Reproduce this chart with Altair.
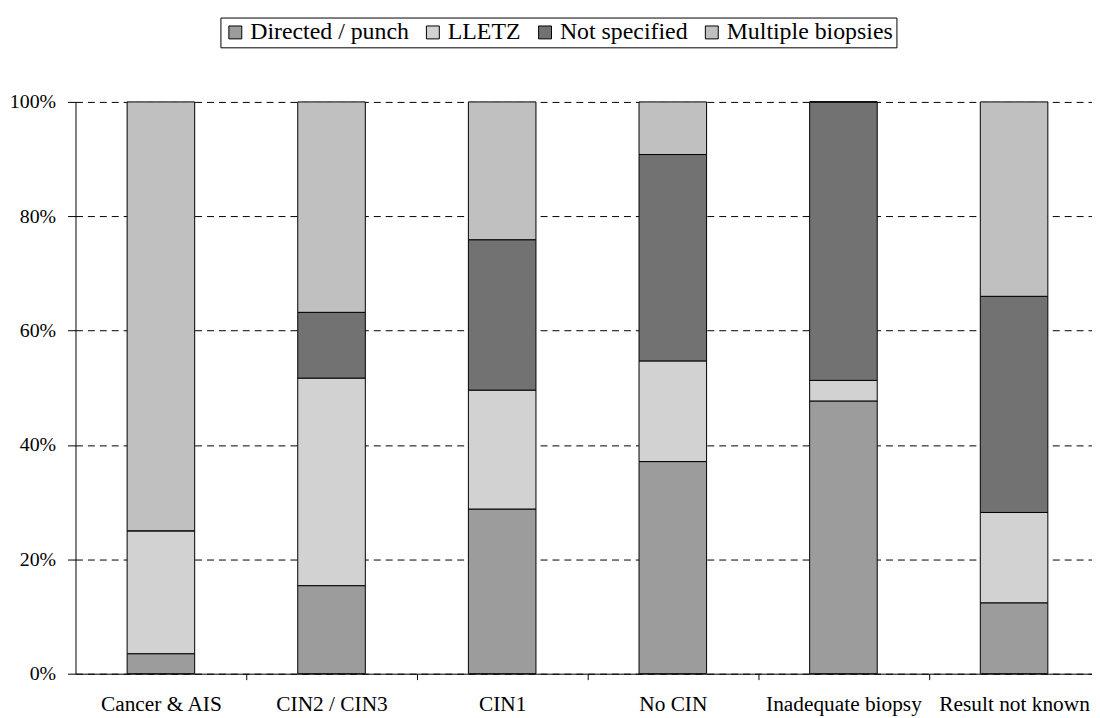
import altair as alt
import pandas as pd

categories = ["Cancer & AIS", "CIN2 / CIN3", "CIN1", "No CIN", "Inadequate biopsy", "Result not known"]
series = ["Directed / punch", "LLETZ", "Not specified", "Multiple biopsies"]
directed = [3.5, 15.4, 28.8, 37.1, 47.7, 12.4]
lletz = [21.5, 36.3, 20.8, 17.6, 3.6, 15.8]
not_specified = [0.0, 11.5, 26.3, 36.1, 48.7, 37.8]
multiple = [75.0, 36.8, 24.1, 9.2, 0.0, 34.0]
y_ticks = [0, 20, 40, 60, 80, 100]

colors = ["#9c9c9c", "#d2d2d2", "#727272", "#c0c0c0"]

rows = []
for s_i, (name, vals) in enumerate(zip(series, [directed, lletz, not_specified, multiple])):
    for c, v in zip(categories, vals):
        rows.append({"category": c, "series": name, "value": v, "order": s_i})
df = pd.DataFrame(rows)

FONT = "Liberation Serif"

chart = (
    alt.Chart(df)
    .mark_bar(stroke="black", strokeWidth=1)
    .encode(
        x=alt.X(
            "category:N",
            sort=categories,
            title=None,
            scale=alt.Scale(paddingInner=0.604, paddingOuter=0.2806, align=0.539),
            axis=alt.Axis(
                labelAngle=0,
                labelFont=FONT,
                labelFontSize=21.5,
                labelColor="black",
                labelPadding=14,
                tickSize=6,
                tickColor="black",
                domainColor="black",
                tickOffset=85.95,
                labelOffset=-85.95,
                grid=False,
            ),
        ),
        y=alt.Y(
            "value:Q",
            stack="zero",
            title=None,
            scale=alt.Scale(domain=[0, 100], nice=False),
            axis=alt.Axis(
                values=y_ticks,
                labelExpr="datum.value + '%'",
                labelFont=FONT,
                labelFontSize=20,
                labelColor="black",
                labelPadding=12,
                tickSize=8,
                tickColor="black",
                domainColor="black",
                grid=True,
                gridColor="black",
                gridDash=[7, 5],
                gridWidth=1,
            ),
        ),
        color=alt.Color(
            "series:N",
            sort=series,
            scale=alt.Scale(domain=series, range=colors),
            legend=alt.Legend(
                title=None,
                orient="none",
                legendX=146,
                legendY=-85,
                direction="horizontal",
                symbolType="square",
                symbolSize=169,
                symbolStrokeColor="black",
                symbolStrokeWidth=1,
                labelFont=FONT,
                labelFontSize=24,
                labelColor="black",
                labelLimit=400,
                labelOffset=3,
                columnPadding=12,
                strokeColor="black",
                padding=3,
            ),
        ),
        order=alt.Order("order:Q", sort="ascending"),
    )
    .properties(
        width=1024,
        height=576,
        autosize=alt.AutoSizeParams(type="none"),
        padding={"left": 68, "top": 92, "right": 0, "bottom": 40},
    )
    .configure_view(stroke=None)
    .configure_axis(domainWidth=1, tickWidth=1)
)

chart.save("out.html", embed_options={"renderer": "svg", "actions": False})
